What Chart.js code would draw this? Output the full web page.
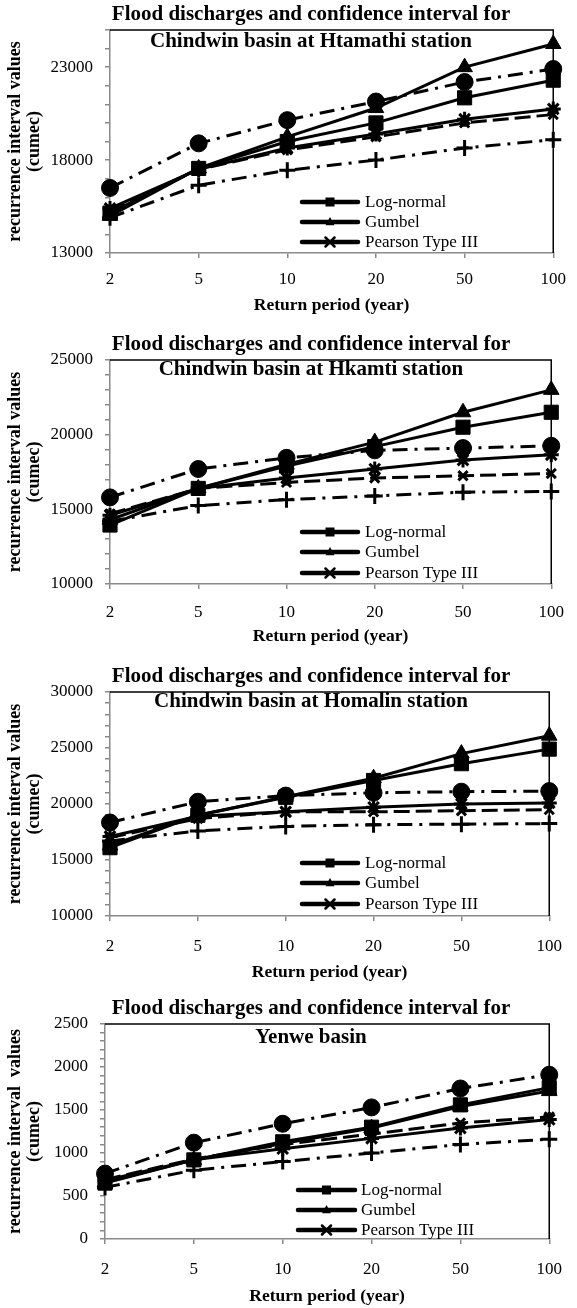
<!DOCTYPE html>
<html><head><meta charset="utf-8">
<script src="https://cdn.jsdelivr.net/npm/chart.js@4.4.1/dist/chart.umd.min.js"></script>
<style>
html,body{margin:0;padding:0;background:#fff;}
body{width:577px;height:1308px;position:relative;overflow:hidden;}
.panel{position:absolute;left:0;width:577px;}
canvas{display:block;}
</style></head><body>
<div class="panel" style="top:0;height:322px"><canvas id="c1" width="577" height="322"></canvas></div>
<div class="panel" style="top:322px;height:330px"><canvas id="c2" width="577" height="330"></canvas></div>
<div class="panel" style="top:652px;height:336px"><canvas id="c3" width="577" height="336"></canvas></div>
<div class="panel" style="top:988px;height:320px"><canvas id="c4" width="577" height="320"></canvas></div>
<script>
// ---- categories ----
const returnPeriods = ['2', '5', '10', '20', '50', '100'];
const legendNames = ['Log-normal', 'Gumbel', 'Pearson Type III'];
const titleLine1 = 'Flood discharges and confidence interval for';

// ---- Chindwin basin at Htamathi station ----
const htamathiLogNormal = [15150, 17550, 19000, 20000, 21350, 22300];
const htamathiGumbel    = [15000, 17550, 19250, 20800, 23000, 24250];
const htamathiPearson3  = [15400, 17500, 18650, 19400, 20200, 20750];
const htamathiUpper     = [16500, 18900, 20150, 21150, 22200, 22900];
const htamathiLower     = [14900, 16650, 17450, 18000, 18650, 19100];
const htamathiDashed    = [15300, 17500, 18550, 19250, 20000, 20450];
const htamathiYLabels   = [13000, 18000, 23000];

// ---- Chindwin basin at Hkamti station ----
const hkamtiLogNormal = [13950, 16400, 17900, 19200, 20500, 21500];
const hkamtiGumbel    = [14300, 16400, 18000, 19500, 21500, 23000];
const hkamtiPearson3  = [14600, 16400, 17100, 17700, 18300, 18650];
const hkamtiUpper     = [15800, 17700, 18450, 18950, 19100, 19250];
const hkamtiLower     = [14200, 15250, 15650, 15900, 16150, 16200];
const hkamtiDashed    = [14700, 16400, 16800, 17100, 17250, 17400];
const hkamtiYLabels   = [10000, 15000, 20000, 25000];

// ---- Chindwin basin at Homalin station ----
const homalinLogNormal = [16100, 19000, 20600, 22100, 23600, 24900];
const homalinGumbel    = [16300, 19000, 20650, 22300, 24500, 26100];
const homalinPearson3  = [17100, 18900, 19300, 19700, 20000, 20100];
const homalinUpper     = [18350, 20200, 20750, 21000, 21100, 21150];
const homalinLower     = [16700, 17600, 18000, 18150, 18200, 18250];
const homalinDashed    = [17000, 18700, 19300, 19300, 19400, 19500];
const homalinYLabels   = [10000, 15000, 20000, 25000, 30000];

// ---- Yenwe basin ----
const yenweLogNormal = [650, 920, 1130, 1300, 1560, 1760];
const yenweGumbel    = [660, 920, 1110, 1290, 1540, 1720];
const yenwePearson3  = [680, 920, 1050, 1170, 1290, 1390];
const yenweUpper     = [760, 1120, 1340, 1530, 1750, 1910];
const yenweLower     = [600, 800, 900, 1000, 1100, 1160];
const yenweDashed    = [690, 930, 1100, 1220, 1350, 1420];
const yenweYLabels   = [0, 500, 1000, 1500, 2000, 2500];

const SERIF = "'Liberation Serif', 'Times New Roman', serif";
const AXIS_GRAY = '#8a8a8a';

function ds(label, data, style, radius, dash, pbw) {
  return {
    label, data,
    borderColor: '#000', backgroundColor: '#000',
    borderWidth: 3, borderDash: dash, tension: 0,
    pointStyle: style, pointRadius: radius, pointHoverRadius: radius,
    pointBackgroundColor: '#000', pointBorderColor: '#000', pointBorderWidth: pbw,
    clip: false, fill: false
  };
}

function drawMarker(ctx, style, x, y, r) {
  ctx.save();
  ctx.fillStyle = '#000'; ctx.strokeStyle = '#000';
  if (style === 'rect') {
    ctx.fillRect(x - r, y - r, 2 * r, 2 * r);
  } else if (style === 'triangle') {
    ctx.beginPath();
    ctx.moveTo(x, y - r * 1.1); ctx.lineTo(x + r, y + r * 0.7); ctx.lineTo(x - r, y + r * 0.7);
    ctx.closePath(); ctx.fill();
  } else if (style === 'star') {
    ctx.lineWidth = 2.5;
    ctx.beginPath();
    ctx.moveTo(x - r, y - r); ctx.lineTo(x + r, y + r);
    ctx.moveTo(x + r, y - r); ctx.lineTo(x - r, y + r);
    ctx.moveTo(x - r, y); ctx.lineTo(x + r, y);
    ctx.stroke();
  }
  ctx.restore();
}

const decorPlugin = {
  id: 'decor',
  afterDatasetsDraw(chart, args, opts) {
    const {ctx, chartArea: a} = chart;
    ctx.save();
    // plot frame (top and right)
    ctx.strokeStyle = '#000'; ctx.lineWidth = 1.5;
    ctx.beginPath();
    ctx.moveTo(a.left, a.top); ctx.lineTo(a.right, a.top); ctx.lineTo(a.right, a.bottom);
    ctx.stroke();
    // title
    ctx.fillStyle = '#000';
    ctx.font = "bold 21px " + SERIF;
    ctx.textAlign = 'center'; ctx.textBaseline = 'middle';
    ctx.fillText(titleLine1, opts.titleX, a.top + opts.t1);
    ctx.fillText(opts.title2, opts.titleX, a.top + opts.t2);
    // legend
    const styles = ['rect', 'triangle', 'star'];
    ctx.font = "17px " + SERIF;
    ctx.textAlign = 'left';
    legendNames.forEach((name, i) => {
      const y = a.bottom + opts.legRows[i];
      ctx.strokeStyle = '#000'; ctx.lineWidth = 4.5; ctx.lineCap = 'round';
      ctx.beginPath(); ctx.moveTo(opts.legX0, y); ctx.lineTo(opts.legX1, y); ctx.stroke();
      drawMarker(ctx, styles[i], (opts.legX0 + opts.legX1) / 2, y, 4.5);
      ctx.fillStyle = '#000';
      ctx.fillText(name, opts.legText, y + 1);
    });
    ctx.restore();
  }
};

function makePanel(id, p) {
  new Chart(document.getElementById(id), {
    type: 'line',
    data: {
      labels: returnPeriods,
      datasets: [
        ds('Log-normal', p.ln, 'rect', 10, [], 1),
        ds('Gumbel', p.gu, 'triangle', 9, [], 1),
        ds('Pearson Type III', p.p3, 'star', 7.5, [], 3),
        ds('Upper limit', p.up, 'circle', 8.5, [15, 7, 3, 7], 1),
        ds('Lower limit', p.lo, 'cross', 8, [15, 7, 3, 7], 3),
        ds('Pearson Type III limit', p.da, 'crossRot', 6.5, [16, 6], 3)
      ]
    },
    options: {
      responsive: false, animation: false, devicePixelRatio: 1,
      layout: {padding: {top: p.top, right: 20, left: 0, bottom: 0}},
      plugins: {legend: {display: false}, tooltip: {enabled: false},
        decor: {titleX: 311, t1: -15, t2: p.t2, title2: p.title2,
          legX0: p.legX0, legX1: p.legX1, legText: p.legText, legRows: p.legRows}},
      scales: {
        x: {
          offset: false,
          afterFit: s => { s.height = p.xh; },
          ticks: {padding: p.xpad, font: {family: SERIF, size: 17}, color: '#000', autoSkip: false, maxRotation: 0},
          grid: {drawOnChartArea: false, drawTicks: true, tickLength: 5, color: AXIS_GRAY, lineWidth: 1.5, offset: false},
          border: {color: AXIS_GRAY, width: 1.5},
          title: {display: true, text: 'Return period (year)', color: '#000',
            font: {family: SERIF, size: 17.5, weight: 'bold', lineHeight: 1.2}, padding: {top: 0, bottom: p.xtpad}}
        },
        y: {
          min: p.min, max: p.max,
          afterFit: s => { s.width = p.yw; },
          ticks: {stepSize: p.step, autoSkip: false, padding: p.ypad, font: {family: SERIF, size: 17}, color: '#000',
            callback: v => p.labels.includes(v) ? String(v) : ''},
          grid: {drawOnChartArea: false, drawTicks: true, tickLength: 5, color: AXIS_GRAY, lineWidth: 1.5},
          border: {color: AXIS_GRAY, width: 1.5},
          title: {display: true, text: [p.ytitle, '(cumec)'], color: '#000',
            font: {family: SERIF, size: 18, weight: 'bold', lineHeight: 1.05}, padding: {top: 6, bottom: 0}}
        }
      }
    },
    plugins: [decorPlugin]
  });
}

makePanel('c1', {ln: htamathiLogNormal, gu: htamathiGumbel, p3: htamathiPearson3, up: htamathiUpper, lo: htamathiLower, da: htamathiDashed,
  labels: htamathiYLabels, min: 13000, max: 25000, step: 1000, top: 30, xh: 69, yw: 110, xpad: 11, xtpad: 6, ypad: 12,
  t2: 12, title2: 'Chindwin basin at Htamathi station', ytitle: 'recurrence interval values',
  legX0: 302, legX1: 358, legText: 365, legRows: [-51, -31, -11]});
makePanel('c2', {ln: hkamtiLogNormal, gu: hkamtiGumbel, p3: hkamtiPearson3, up: hkamtiUpper, lo: hkamtiLower, da: hkamtiDashed,
  labels: hkamtiYLabels, min: 10000, max: 25000, step: 1000, top: 38, xh: 68, yw: 110, xpad: 13, xtpad: 5, ypad: 12,
  t2: 10, title2: 'Chindwin basin at Hkamti station', ytitle: 'recurrence interval values',
  legX0: 302, legX1: 358, legText: 365, legRows: [-52, -32, -11]});
makePanel('c3', {ln: homalinLogNormal, gu: homalinGumbel, p3: homalinPearson3, up: homalinUpper, lo: homalinLower, da: homalinDashed,
  labels: homalinYLabels, min: 10000, max: 30000, step: 1000, top: 40, xh: 72, yw: 110, xpad: 15, xtpad: 5, ypad: 12,
  t2: 10, title2: 'Chindwin basin at Homalin station', ytitle: 'recurrence interval values',
  legX0: 302, legX1: 358, legText: 365, legRows: [-53, -33, -12]});
makePanel('c4', {ln: yenweLogNormal, gu: yenweGumbel, p3: yenwePearson3, up: yenweUpper, lo: yenweLower, da: yenweDashed,
  labels: yenweYLabels, min: 0, max: 2500, step: 100, top: 36, xh: 69, yw: 105, xpad: 15, xtpad: 1, ypad: 12,
  t2: 14, title2: 'Yenwe basin', ytitle: 'recurrence interval  values',
  legX0: 298, legX1: 355, legText: 361, legRows: [-49, -29, -9]});
</script>
</body></html>
